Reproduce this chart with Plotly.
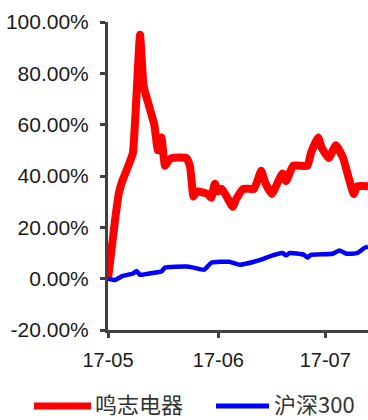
import plotly.graph_objects as go

# ---- data (percent) ----
red_name = "鸣志电器"
red_dates = ['2017-05-01', '2017-05-03', '2017-05-04', '2017-05-05', '2017-05-07', '2017-05-08',
             '2017-05-10', '2017-05-11', '2017-05-13', '2017-05-14', '2017-05-15', '2017-05-16',
             '2017-05-17', '2017-05-18', '2017-05-19', '2017-05-23', '2017-05-24', '2017-05-25',
             '2017-05-26', '2017-05-29', '2017-05-30', '2017-05-31', '2017-06-01', '2017-06-02',
             '2017-06-05', '2017-06-06', '2017-06-08', '2017-06-11', '2017-06-13', '2017-06-14',
             '2017-06-15', '2017-06-16', '2017-06-19', '2017-06-20', '2017-06-22', '2017-06-26',
             '2017-06-27', '2017-06-29', '2017-06-30', '2017-07-02', '2017-07-04', '2017-07-06',
             '2017-07-09', '2017-07-10', '2017-07-13']
red_values = [0, 23, 33, 38, 45, 49,
              95, 75, 65, 60, 50, 55,
              44, 46, 47, 47, 44, 32,
              34, 33, 31.5, 37, 34, 35,
              28, 31, 35, 35, 42, 38,
              35, 33, 41, 38, 44, 44,
              49, 55, 51, 47, 52, 47,
              33, 36, 36]

blue_name = "沪深300"
blue_dates = ['2017-05-01', '2017-05-03', '2017-05-05', '2017-05-08', '2017-05-09', '2017-05-10',
              '2017-05-14', '2017-05-16', '2017-05-17', '2017-05-23', '2017-05-25', '2017-05-28',
              '2017-05-30', '2017-06-04', '2017-06-07', '2017-06-11', '2017-06-13', '2017-06-16',
              '2017-06-19', '2017-06-20', '2017-06-21', '2017-06-25', '2017-06-26', '2017-06-27',
              '2017-07-03', '2017-07-05', '2017-07-07', '2017-07-10', '2017-07-12', '2017-07-13']
blue_values = [0, -0.5, 1, 2, 3, 1.5,
               2.3, 2.8, 4.3, 4.7, 4.3, 3.5,
               6.2, 6.6, 5.4, 6.6, 7.4, 9,
               10, 9, 10, 9.3, 8.2, 9.3,
               9.7, 11, 9.7, 10, 12, 12.5]

y_tick_vals = [-20, 0, 20, 40, 60, 80, 100]
y_tick_text = ["-20.00%", "0.00%", "20.00%", "40.00%", "60.00%", "80.00%", "100.00%"]
x_tick_vals = ['2017-05-01', '2017-06-01', '2017-07-01']
x_tick_text = ["17-05", "17-06", "17-07"]

RED = "#ff0000"
BLUE = "#0000ff"
AXIS = "#404040"

fig = go.Figure()
fig.add_trace(go.Scatter(x=red_dates, y=red_values, mode="lines", name=red_name,
                         line=dict(color=RED, width=8, shape="spline", smoothing=0.4)))
fig.add_trace(go.Scatter(x=blue_dates, y=blue_values, mode="lines", name=blue_name,
                         line=dict(color=BLUE, width=4.5, shape="spline", smoothing=0.4)))

FONT = "Liberation Sans, Arial, sans-serif"

fig.update_layout(
    width=368, height=420,
    margin=dict(l=108, r=0, t=22, b=90),
    paper_bgcolor="white", plot_bgcolor="white",
    showlegend=False,
    xaxis=dict(range=['2017-05-01', '2017-07-13'], type="date",
               tickvals=x_tick_vals, ticktext=x_tick_text,
               showgrid=False, zeroline=False,
               showline=True, linecolor=AXIS, linewidth=3,
               ticks="outside", ticklen=5, tickwidth=3, tickcolor=AXIS,
               tickfont=dict(family=FONT, size=20, color="#1a1a1a"), ticklabelstandoff=5),
    yaxis=dict(range=[-20, 100], tickvals=y_tick_vals, ticktext=y_tick_text,
               showgrid=False, zeroline=False,
               showline=True, linecolor=AXIS, linewidth=3,
               ticks="outside", ticklen=5, tickwidth=3, tickcolor=AXIS,
               tickfont=dict(family=FONT, size=21, color="#1a1a1a"), ticklabelstandoff=7),
)

# manual legend (long line samples, as in the reference)
def px_x(px):
    return (px - 108) / 260.0

def px_y(py):
    return (330 - py) / 308.0

legend_items = [(red_name, RED, 34, 91, 7, 94), (blue_name, BLUE, 216, 269, 5, 273)]
for name, color, x0, x1, w, tx in legend_items:
    fig.add_shape(type="line", xref="paper", yref="paper",
                  x0=px_x(x0), x1=px_x(x1), y0=px_y(406), y1=px_y(406),
                  line=dict(color=color, width=w))
    fig.add_annotation(text=name, xref="paper", yref="paper", x=px_x(tx), y=px_y(420),
                       xanchor="left", yanchor="bottom", showarrow=False, borderpad=0,
                       font=dict(family="Noto Sans CJK SC, Liberation Sans, sans-serif",
                                 size=22, color="#333333"))

fig.write_html("out.html")
